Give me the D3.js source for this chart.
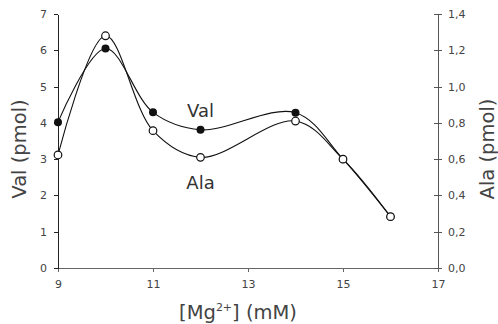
<!DOCTYPE html>
<html>
<head>
<meta charset="utf-8">
<script src="https://cdn.jsdelivr.net/npm/d3@7"></script>
<style>
  html, body { margin: 0; padding: 0; background: #fff; }
  svg { display: block; font-family: "DejaVu Sans", Verdana, sans-serif; }
  .axis text { fill: #444; font-size: 11px; font-family: "DejaVu Sans", Verdana, sans-serif; }
  .axis path, .axis line { shape-rendering: crispEdges; }
  .title { fill: #444; }
</style>
</head>
<body>
<div id="chart"></div>
<script>
// Mg2+ concentration (mM)
const mg = [9, 10, 11, 12, 14, 15, 16];
// Val, pmol (left axis)
const val = [4.02, 6.05, 4.29, 3.81, 4.28, 3.0, 1.415];
// Ala, pmol (right axis)
const ala = [0.623, 1.28, 0.757, 0.61, 0.81, 0.60, 0.283];

const xTicks = [9, 11, 13, 15, 17];
const valTicks = [0, 1, 2, 3, 4, 5, 6, 7];
const alaTicks = [0, 0.2, 0.4, 0.6, 0.8, 1.0, 1.2, 1.4];

const width = 498;
const height = 324;
const margin = { top: 14, right: 60, bottom: 56, left: 58 };

const svg = d3.select(`#chart`).append(`svg`)
    .attr(`width`, width)
    .attr(`height`, height);

const x = d3.scaleLinear()
    .domain([9, 17])
    .range([margin.left, width - margin.right]);

const yVal = d3.scaleLinear()
    .domain([0, 7])
    .range([height - margin.bottom, margin.top]);

const yAla = d3.scaleLinear()
    .domain([0, 1.4])
    .range([height - margin.bottom, margin.top]);

// decimal comma on the Ala axis
const comma = d3.formatLocale({ decimal: `,`, thousands: `.`, grouping: [3], currency: [``, ``] });

// x axis
const gx = svg.append(`g`)
    .attr(`class`, `axis`)
    .attr(`transform`, `translate(0,${yVal(0)})`)
    .call(d3.axisBottom(x).tickValues(xTicks).tickSizeInner(4).tickSizeOuter(0).tickPadding(8));
gx.select(`.domain`).attr(`stroke`, `#666`).attr(`stroke-width`, 1.5);
gx.selectAll(`.tick line`).attr(`stroke`, `#666`);

// left axis (Val)
const gl = svg.append(`g`)
    .attr(`class`, `axis`)
    .attr(`transform`, `translate(${x(9)},0)`)
    .call(d3.axisLeft(yVal).tickValues(valTicks).tickFormat(d3.format(`d`))
      .tickSizeInner(4).tickSizeOuter(0).tickPadding(7));
gl.select(`.domain`).attr(`stroke`, `#222`).attr(`stroke-width`, 1.2);
gl.selectAll(`.tick line`).attr(`stroke`, `#222`);

// right axis (Ala), ticks cross the line
const gr = svg.append(`g`)
    .attr(`class`, `axis`)
    .attr(`transform`, `translate(${x(17)},0)`)
    .call(d3.axisRight(yAla).tickValues(alaTicks).tickFormat(comma.format(`.1f`))
      .tickSizeInner(4).tickSizeOuter(0).tickPadding(6));
gr.select(`.domain`).attr(`stroke`, `#555`).attr(`stroke-width`, 1.2);
gr.selectAll(`.tick line`).attr(`x1`, -4).attr(`stroke`, `#555`);

// axis titles
svg.append(`text`)
    .attr(`class`, `title`)
    .attr(`transform`, `translate(26,149) rotate(-90)`)
    .attr(`text-anchor`, `middle`)
    .style(`font-size`, `19.5px`)
    .text(`Val (pmol)`);

svg.append(`text`)
    .attr(`class`, `title`)
    .attr(`transform`, `translate(494,149) rotate(-90)`)
    .attr(`text-anchor`, `middle`)
    .style(`font-size`, `19.5px`)
    .text(`Ala (pmol)`);

const xTitle = svg.append(`text`)
    .attr(`class`, `title`)
    .attr(`x`, 238)
    .attr(`y`, 319)
    .attr(`text-anchor`, `middle`)
    .style(`font-size`, `19.5px`);
xTitle.append(`tspan`).text(`[Mg`);
xTitle.append(`tspan`).attr(`dy`, -8).style(`font-size`, `11px`).text(`2+`);
xTitle.append(`tspan`).attr(`dy`, 8).text(`] (mM)`);

// series
const valPts = mg.map((m, i) => [x(m), yVal(val[i])]);
const alaPts = mg.map((m, i) => [x(m), yAla(ala[i])]);

const line = d3.line().curve(d3.curveCatmullRom.alpha(0.5));

[valPts, alaPts].forEach((pts) => {
  svg.append(`path`)
      .attr(`d`, line(pts))
      .attr(`fill`, `none`)
      .attr(`stroke`, `#111`)
      .attr(`stroke-width`, 1.1);
});

svg.append(`g`).selectAll(`circle`)
    .data(valPts)
  .enter().append(`circle`)
    .attr(`cx`, (d) => d[0])
    .attr(`cy`, (d) => d[1])
    .attr(`r`, 4)
    .attr(`fill`, `#111`);

svg.append(`g`).selectAll(`circle`)
    .data(alaPts)
  .enter().append(`circle`)
    .attr(`cx`, (d) => d[0])
    .attr(`cy`, (d) => d[1])
    .attr(`r`, 3.8)
    .attr(`fill`, `#fff`)
    .attr(`stroke`, `#111`)
    .attr(`stroke-width`, 1.2);

// series labels next to the 12 mM points
const i12 = mg.indexOf(12);
svg.append(`text`)
    .attr(`x`, x(12))
    .attr(`y`, valPts[i12][1] - 13)
    .attr(`text-anchor`, `middle`)
    .attr(`fill`, `#333`)
    .style(`font-size`, `18px`)
    .text(`Val`);

svg.append(`text`)
    .attr(`x`, x(12))
    .attr(`y`, alaPts[i12][1] + 32)
    .attr(`text-anchor`, `middle`)
    .attr(`fill`, `#333`)
    .style(`font-size`, `18px`)
    .text(`Ala`);
</script>
</body>
</html>
